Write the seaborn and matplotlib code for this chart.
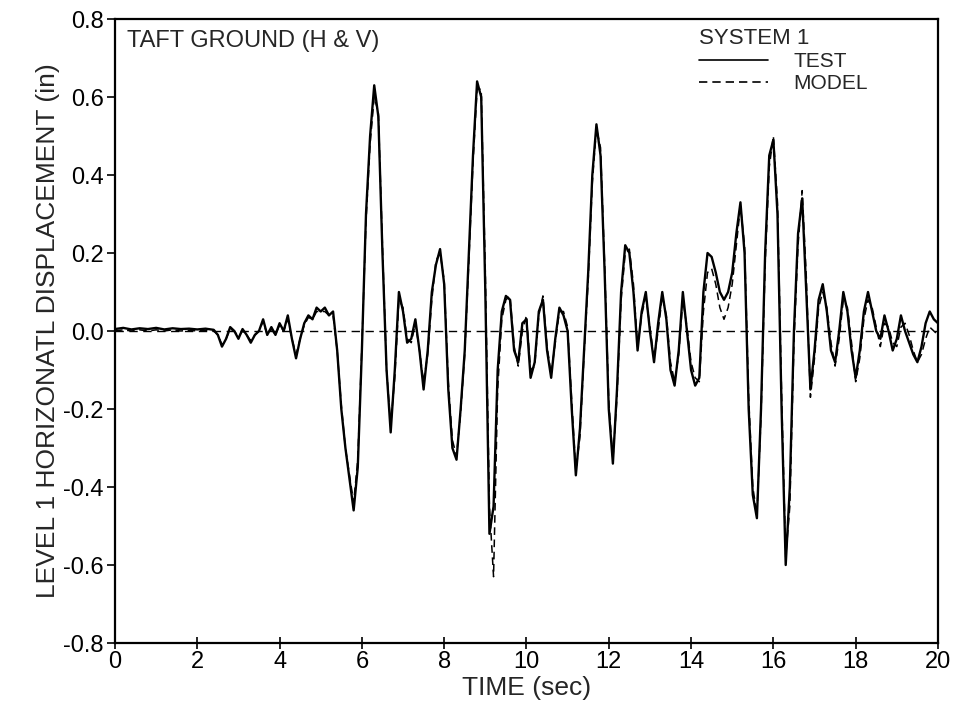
import numpy as np
import pandas as pd
import matplotlib
matplotlib.use("Agg")
import matplotlib.pyplot as plt
import seaborn as sns

# ---- data ----
time = [0.0, 0.2, 0.4, 0.6, 0.8, 1.0, 1.2, 1.4, 1.6, 1.8, 2.0, 2.2, 2.4,
        2.5, 2.6, 2.7, 2.8, 2.9, 3.0, 3.1, 3.2, 3.3, 3.4, 3.5, 3.6, 3.7, 3.8, 3.9,
        4.0, 4.1, 4.2, 4.3, 4.4, 4.5, 4.6, 4.7, 4.8, 4.9, 5.0, 5.1, 5.2, 5.3,
        5.4, 5.5, 5.6, 5.7, 5.8, 5.9, 6.0, 6.1, 6.2, 6.3, 6.4, 6.5, 6.6, 6.7,
        6.8, 6.9, 7.0, 7.1, 7.2, 7.3, 7.4, 7.5, 7.6, 7.7, 7.8, 7.9, 8.0, 8.1,
        8.2, 8.3, 8.4, 8.5, 8.6, 8.7, 8.8, 8.9, 9.0, 9.1, 9.2, 9.3, 9.4, 9.5,
        9.6, 9.7, 9.8, 9.9, 10.0, 10.1, 10.2, 10.3, 10.4, 10.5, 10.6, 10.7,
        10.8, 10.9, 11.0, 11.1, 11.2, 11.3, 11.4, 11.5, 11.6, 11.7, 11.8,
        11.9, 12.0, 12.1, 12.2, 12.3, 12.4, 12.5, 12.6, 12.7, 12.8, 12.9,
        13.0, 13.1, 13.2, 13.3, 13.4, 13.5, 13.6, 13.7, 13.8, 13.9, 14.0,
        14.1, 14.2, 14.3, 14.4, 14.5, 14.6, 14.7, 14.8, 14.9, 15.0, 15.1,
        15.2, 15.3, 15.4, 15.5, 15.6, 15.7, 15.8, 15.9, 16.0, 16.1, 16.2,
        16.3, 16.4, 16.5, 16.6, 16.7, 16.8, 16.9, 17.0, 17.1, 17.2, 17.3,
        17.4, 17.5, 17.6, 17.7, 17.8, 17.9, 18.0, 18.1, 18.2, 18.3, 18.4,
        18.5, 18.6, 18.7, 18.8, 18.9, 19.0, 19.1, 19.2, 19.3, 19.4, 19.5,
        19.6, 19.7, 19.8, 19.9, 20.0]

test = [0.005, 0.008, 0.004, 0.007, 0.005, 0.008, 0.004, 0.007, 0.005, 0.006, 0.004, 0.006, 0.003,
        -0.01, -0.04, -0.02, 0.01, 0.0, -0.02, 0.005, -0.01, -0.03, -0.01, 0.0, 0.03, -0.01, 0.01, -0.01,
        0.02, 0.0, 0.04, -0.02, -0.07, -0.02, 0.02, 0.04, 0.03, 0.06, 0.05, 0.06, 0.04, 0.05,
        -0.05, -0.2, -0.3, -0.38, -0.46, -0.35, -0.05, 0.3, 0.5, 0.63, 0.55, 0.2, -0.1, -0.26,
        -0.1, 0.1, 0.05, -0.03, -0.02, 0.03, -0.05, -0.15, -0.05, 0.1, 0.17, 0.21, 0.12, -0.15,
        -0.3, -0.33, -0.2, -0.05, 0.2, 0.45, 0.64, 0.6, 0.1, -0.52, -0.45, -0.1, 0.05, 0.09,
        0.08, -0.05, -0.08, 0.02, 0.03, -0.12, -0.08, 0.05, 0.08, -0.05, -0.12, -0.02,
        0.06, 0.04, 0.0, -0.2, -0.37, -0.25, -0.05, 0.15, 0.4, 0.53, 0.45,
        0.15, -0.2, -0.34, -0.15, 0.1, 0.22, 0.2, 0.1, -0.05, 0.05, 0.1,
        0.0, -0.08, 0.02, 0.1, 0.03, -0.1, -0.14, -0.05, 0.1, 0.0, -0.1,
        -0.14, -0.12, 0.1, 0.2, 0.19, 0.15, 0.1, 0.08, 0.1, 0.15, 0.25,
        0.33, 0.2, -0.2, -0.42, -0.48, -0.2, 0.2, 0.45, 0.49, 0.3, -0.2,
        -0.6, -0.4, 0.0, 0.25, 0.34, 0.1, -0.15, -0.05, 0.08, 0.12, 0.05,
        -0.05, -0.08, 0.0, 0.1, 0.05, -0.05, -0.12, -0.05, 0.05, 0.1, 0.05,
        0.0, -0.02, 0.04, 0.0, -0.05, -0.02, 0.04, 0.0, -0.03, -0.06, -0.08,
        -0.04, 0.02, 0.05, 0.03, 0.02]

model = [0.0, 0.003, 0.0, 0.003, 0.0, 0.003, 0.0, 0.003, 0.0, 0.002, 0.0, 0.002, 0.0,
         -0.01, -0.035, -0.02, 0.005, 0.0, -0.015, 0.0, -0.01, -0.025, -0.01, 0.0, 0.025, -0.01, 0.005, -0.01,
         0.015, 0.0, 0.03, -0.02, -0.06, -0.02, 0.015, 0.035, 0.03, 0.05, 0.05, 0.05, 0.04, 0.04,
         -0.05, -0.19, -0.3, -0.37, -0.44, -0.33, -0.04, 0.28, 0.48, 0.6, 0.56, 0.22, -0.1, -0.24,
         -0.12, 0.08, 0.06, -0.02, -0.03, 0.02, -0.05, -0.13, -0.06, 0.08, 0.18, 0.2, 0.13, -0.13,
         -0.28, -0.32, -0.21, -0.06, 0.18, 0.43, 0.62, 0.62, 0.15, -0.45, -0.63, -0.15, 0.03, 0.08,
         0.09, -0.04, -0.09, 0.0, 0.04, -0.1, -0.09, 0.04, 0.09, -0.04, -0.11, -0.03,
         0.05, 0.05, 0.01, -0.18, -0.36, -0.27, -0.06, 0.13, 0.38, 0.52, 0.47,
         0.17, -0.18, -0.33, -0.17, 0.08, 0.2, 0.21, 0.12, -0.04, 0.04, 0.09,
         0.01, -0.07, 0.0, 0.09, 0.04, -0.08, -0.13, -0.06, 0.08, 0.01, -0.08,
         -0.12, -0.13, 0.05, 0.15, 0.16, 0.12, 0.06, 0.03, 0.06, 0.12, 0.22,
         0.32, 0.22, -0.17, -0.4, -0.47, -0.22, 0.17, 0.42, 0.5, 0.33, -0.16,
         -0.58, -0.45, -0.03, 0.22, 0.36, 0.14, -0.17, -0.07, 0.06, 0.1, 0.06,
         -0.03, -0.09, -0.02, 0.08, 0.06, -0.03, -0.13, -0.07, 0.03, 0.08, 0.06,
         0.01, -0.04, 0.02, 0.01, -0.03, -0.04, 0.01, 0.02, -0.01, -0.05, -0.08,
         -0.06, -0.02, 0.01, 0.0, -0.01]

xticks = [0, 2, 4, 6, 8, 10, 12, 14, 16, 18, 20]
yticks = [-0.8, -0.6, -0.4, -0.2, 0.0, 0.2, 0.4, 0.6, 0.8]

df = pd.concat([
    pd.DataFrame({"time": time, "disp": test, "series": "TEST"}),
    pd.DataFrame({"time": time, "disp": model, "series": "MODEL"}),
])

sns.set_style("ticks")
plt.rcParams["font.family"] = ["Liberation Sans", "DejaVu Sans"]

fig = plt.figure(figsize=(9.63, 7.17), dpi=100)
ax = fig.add_axes([0.1194, 0.1032, 0.8546, 0.8703])

ax.axhline(0, color="black", lw=1.0, ls=(0, (6, 4)), zorder=1)
sns.lineplot(data=df[df.series == "TEST"], x="time", y="disp", ax=ax,
             color="black", lw=1.7, label="TEST", zorder=3)
sns.lineplot(data=df[df.series == "MODEL"], x="time", y="disp", ax=ax,
             color="black", lw=1.1, ls=(0, (5, 3)), label="MODEL", zorder=2)

ax.set_xlim(0, 20)
ax.set_ylim(-0.8, 0.8)
ax.set_xticks(xticks)
ax.set_yticks(yticks)
ax.set_xticklabels([str(v) for v in xticks])
ax.set_yticklabels([f"{v:.1f}" for v in yticks])
ax.tick_params(axis="y", direction="out", length=6, width=1.2, labelsize=17,
               colors="black", pad=2)
ax.tick_params(axis="x", direction="inout", length=8, width=1.2, labelsize=17,
               colors="black", pad=2)
for s in ax.spines.values():
    s.set_linewidth(1.6)
    s.set_color("black")

ax.set_xlabel("TIME (sec)", fontsize=19, labelpad=2)
ax.set_ylabel("LEVEL 1 HORIZONATL DISPLACEMENT (in)", fontsize=19, labelpad=2)

ax.text(0.0146, 0.982, "TAFT GROUND (H & V)", transform=ax.transAxes,
        fontsize=17, va="top", ha="left")

leg = ax.legend(title="SYSTEM 1", loc="upper left", bbox_to_anchor=(0.71, 0.986),
                frameon=False, fontsize=15, title_fontsize=16,
                handlelength=3.3, handletextpad=1.2, labelspacing=0.15,
                borderaxespad=0.0, borderpad=0.0, alignment="left")
for h in leg.get_lines():
    h.set_linewidth(1.2)

fig.savefig("out.png", dpi=100)
